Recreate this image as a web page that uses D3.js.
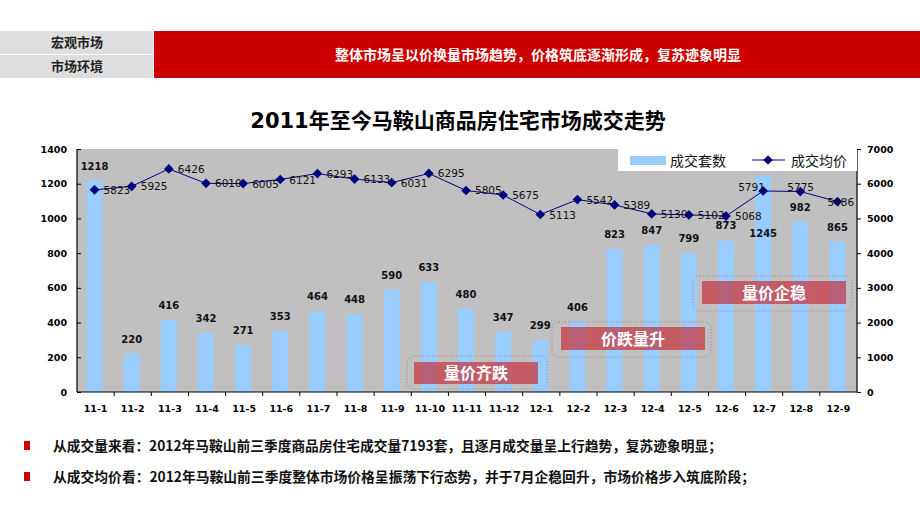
<!DOCTYPE html>
<html><head><meta charset="utf-8">
<script src="https://cdn.jsdelivr.net/npm/d3@7"></script>
<style>body{margin:0;background:#fff}svg{display:block}</style>
</head><body>
<svg id="c" width="920" height="517"></svg>
<script>
const categories = ["11-1","11-2","11-3","11-4","11-5","11-6","11-7","11-8","11-9","11-10","11-11","11-12","12-1","12-2","12-3","12-4","12-5","12-6","12-7","12-8","12-9"];
const volumes = [1218,220,416,342,271,353,464,448,590,633,480,347,299,406,823,847,799,873,1245,982,865];
const prices = [5823,5925,6426,6010,6005,6121,6293,6133,6031,6295,5805,5675,5113,5542,5389,5130,5102,5068,5791,5775,5486];
const leftTicks = [0,200,400,600,800,1000,1200,1400];
const rightTicks = [0,1000,2000,3000,4000,5000,6000,7000];
const seriesNames = ["成交套数","成交均价"];
const headerTabs = ["宏观市场","市场环境"];
const headerBanner = "整体市场呈以价换量市场趋势，价格筑底逐渐形成，复苏迹象明显";
const chartTitle = "2011年至今马鞍山商品房住宅市场成交走势";
const phaseLabels = ["量价齐跌","价跌量升","量价企稳"];
const notes = ["从成交量来看：2012年马鞍山前三季度商品房住宅成交量7193套，且逐月成交量呈上行趋势，复苏迹象明显；",
               "从成交均价看：2012年马鞍山前三季度整体市场价格呈振荡下行态势，并于7月企稳回升，市场价格步入筑底阶段；"];

const svg = d3.select("#c");
const CJK = "'Noto Sans CJK SC', sans-serif";
const NUM = "'DejaVu Sans', 'Noto Sans CJK SC', sans-serif";

// header
svg.append("rect").attr("x",0).attr("y",31).attr("width",153).attr("height",23).attr("fill","#dedede");
svg.append("rect").attr("x",0).attr("y",55).attr("width",153).attr("height",23).attr("fill","#dedede");
svg.append("rect").attr("x",154).attr("y",31).attr("width",766).attr("height",47).attr("fill","#cc0000");
headerTabs.forEach((t,i)=>{
  svg.append("text").attr("x",77).attr("y",47+i*24).attr("text-anchor","middle")
    .attr("font-family",CJK).attr("font-weight","bold").attr("font-size",13).attr("fill","#222").text(t);
});
svg.append("text").attr("x",538).attr("y",60).attr("text-anchor","middle")
  .attr("font-family",CJK).attr("font-weight","bold").attr("font-size",14).attr("fill","#fff").text(headerBanner);

// title
svg.append("text").attr("x",458).attr("y",128).attr("text-anchor","middle")
  .attr("font-family",NUM).attr("font-weight","bold").attr("font-size",21).attr("fill","#000").text(chartTitle);

// chart
const L=77, R=857, T=149, B=392;
const x = d3.scaleBand().domain(categories).range([L,R]).paddingInner(0).paddingOuter(0);
const yL = d3.scaleLinear().domain([0,1400]).range([B,T]);
const yR = d3.scaleLinear().domain([0,7000]).range([B,T]);

svg.append("rect").attr("x",L).attr("y",T).attr("width",R-L).attr("height",B-T).attr("fill","#c0c0c0");

const bw = 16;
svg.append("g").selectAll("rect").data(volumes).join("rect")
  .attr("x",(d,i)=>x(categories[i])+x.bandwidth()/2-bw/2-1)
  .attr("y",d=>yL(d)).attr("width",bw).attr("height",d=>B-yL(d)).attr("fill","#99ccff");

// annotation boxes
const boxes = [
  {o:[407,356,140,33], r:[414,362,124,22]},
  {o:[552,322,159,35], r:[561,327,144,23]},
  {o:[693,276,159,35], r:[702,281,144,23]}
];
boxes.forEach((b,i)=>{
  svg.append("rect").attr("x",b.o[0]).attr("y",b.o[1]).attr("width",b.o[2]).attr("height",b.o[3])
    .attr("rx",7).attr("fill","none").attr("stroke","#b07a7a").attr("stroke-width",1).attr("stroke-dasharray","1,2");
  svg.append("rect").attr("x",b.r[0]).attr("y",b.r[1]).attr("width",b.r[2]).attr("height",b.r[3])
    .attr("fill","rgba(200,40,50,0.66)");
  svg.append("text").attr("x",b.r[0]+b.r[2]/2).attr("y",b.r[1]+b.r[3]/2+6).attr("text-anchor","middle")
    .attr("font-family",CJK).attr("font-weight","bold").attr("font-size",16).attr("fill","#fff").text(phaseLabels[i]);
});

// bar labels
svg.append("g").selectAll("text").data(volumes).join("text")
  .attr("x",(d,i)=>x(categories[i])+x.bandwidth()/2-1)
  .attr("y",(d,i)=> categories[i]==="12-7" ? 237 : yL(d)-11)
  .attr("text-anchor","middle").attr("font-family",NUM).attr("font-weight","bold")
  .attr("font-size",10).attr("fill","#111").text(d=>d);

// line
const cx = c => x(c)+x.bandwidth()/2-1;
const line = d3.line().x((d,i)=>cx(categories[i])).y(d=>yR(d));
svg.append("path").datum(prices).attr("d",line).attr("fill","none").attr("stroke","#000080").attr("stroke-width",1);
const diamond = d3.symbol().type(d3.symbolDiamond2).size(60);
svg.append("g").selectAll("path").data(prices).join("path")
  .attr("transform",(d,i)=>`translate(${cx(categories[i])},${yR(d)})`).attr("d",diamond).attr("fill","#000080");
svg.append("g").selectAll("text").data(prices).join("text")
  .attr("x",(d,i)=>{const c=cx(categories[i]); if(categories[i]==="12-7") return c-25; if(categories[i]==="12-8") return c-13; if(categories[i]==="12-9") return c-10; return c+9;})
  .attr("y",(d,i)=>{const y=yR(d); if(categories[i]==="12-7") return y; if(categories[i]==="12-8") return y-1; return y+4;})
  .attr("font-family",NUM).attr("font-size",10.5).attr("fill","#111").text(d=>d);

// axes
const axL = svg.append("g").attr("transform",`translate(${L},0)`)
  .call(d3.axisLeft(yL).tickValues(leftTicks).tickSize(-4).tickPadding(10).tickFormat(d3.format("d")));
const axR = svg.append("g").attr("transform",`translate(${R},0)`)
  .call(d3.axisRight(yR).tickValues(rightTicks).tickSize(4).tickPadding(6).tickFormat(d3.format("d")));
const axB = svg.append("g").attr("transform",`translate(0,${B})`)
  .call(d3.axisBottom(x).tickSize(0).tickPadding(13));
svg.append("g").selectAll("line").data(categories.slice(1)).join("line")
  .attr("x1",d=>x(d)).attr("x2",d=>x(d)).attr("y1",B).attr("y2",B+4).attr("stroke","#000");
[axL,axR,axB].forEach(a=>{
  a.select(".domain").attr("stroke","#000").attr("stroke-width",1.2);
  a.selectAll(".tick line").attr("stroke","#000");
  a.selectAll("text").attr("font-family",NUM).attr("font-weight","bold").attr("font-size",9.5).attr("fill","#000");
});
axB.select(".domain").attr("d",`M${L},0H${R}`);
axL.select(".domain").attr("d",`M0,${B}V${T}`);
axR.select(".domain").attr("d",`M0,${B}V${T}`);

// legend
svg.append("rect").attr("x",618).attr("y",148).attr("width",239).attr("height",23).attr("fill","#fff");
svg.append("rect").attr("x",630).attr("y",156).attr("width",36).attr("height",9).attr("fill","#99ccff");
svg.append("text").attr("x",670).attr("y",165.5).attr("font-family",CJK).attr("font-size",14).attr("fill","#111").text(seriesNames[0]);
svg.append("line").attr("x1",752).attr("x2",785).attr("y1",160).attr("y2",160).attr("stroke","#000080");
svg.append("path").attr("transform","translate(768,160)").attr("d",diamond).attr("fill","#000080");
svg.append("text").attr("x",791).attr("y",165.5).attr("font-family",CJK).attr("font-size",14).attr("fill","#111").text(seriesNames[1]);

// notes
const noteWidths = [669, 702];
notes.forEach((t,i)=>{
  const y = 446 + i*31;
  svg.append("rect").attr("x",24).attr("y",y-5).attr("width",6).attr("height",9).attr("fill","#cc0000");
  svg.append("text").attr("x",53).attr("y",y+5).attr("font-family",CJK).attr("font-weight","bold")
    .attr("font-size",13.8).attr("fill","#111")
    .attr("textLength",noteWidths[i]).attr("lengthAdjust","spacingAndGlyphs").text(t);
});
</script>
</body></html>
